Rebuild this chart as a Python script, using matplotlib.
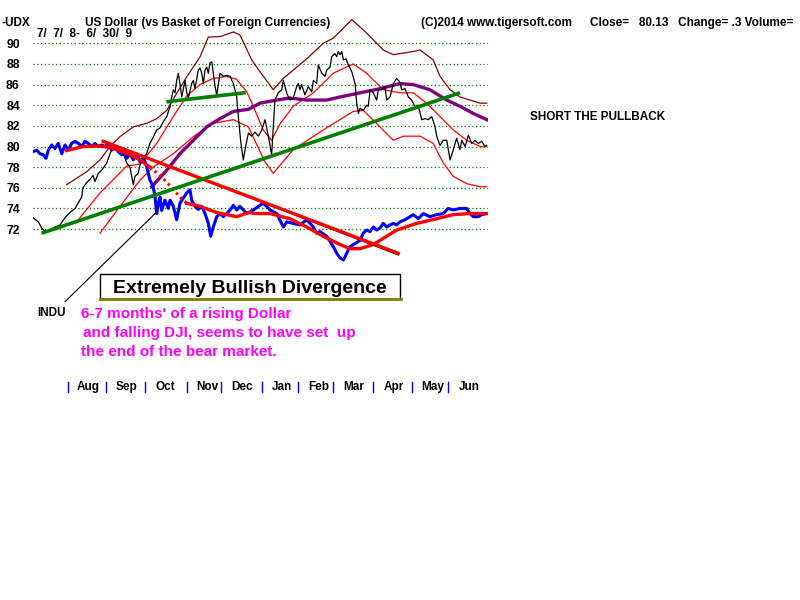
import matplotlib
matplotlib.use("Agg")
import matplotlib.pyplot as plt
import matplotlib.transforms as mtransforms
from matplotlib.patches import Rectangle
from matplotlib.lines import Line2D

plt.rcParams['font.family'] = ['Liberation Sans', 'DejaVu Sans']
plt.rcParams['font.weight'] = 'bold'

# x = trading day counted from 7/7/08 (day 0) to 6/30/09 (day 248)
months = ['Aug', 'Sep', 'Oct', 'Nov', 'Dec', 'Jan', 'Feb', 'Mar', 'Apr', 'May', 'Jun']
month_start = [19, 40, 61, 84, 103, 125, 145, 164, 186, 207, 227]
y_ticks = [72, 74, 76, 78, 80, 82, 84, 86, 88, 90]

# US Dollar index closes
usd_day = [0, 2.9, 4.8, 6.6, 9.3, 12.0, 14.8, 17.5, 20.2, 23.0, 24.6, 26.6, 27.3, 29.3, 31.1,
           32.8, 33.9, 35.7, 37.5, 40.3, 42.1, 43.9, 45.7, 47.5, 49.3, 51.2, 53.0, 54.8, 55.7,
           57.5, 58.5, 60.3, 62.1, 63.9, 65.7, 67.6, 69.4, 71.2, 73.1, 74.9, 75.8, 76.7, 77.6,
           78.5, 79.4, 80.3, 81.3, 82.1, 83.1, 84.0, 84.9, 86.7, 87.6, 88.5, 90.3, 91.3, 92.2,
           93.1, 94.0, 94.9, 95.8, 96.7, 97.7, 98.5, 99.5, 100.4, 102.2, 104.0, 105.8, 107.7,
           109.5, 111.3, 112.2, 113.5, 114.9, 116.2, 117.7, 119.5, 121.3, 123.1, 125.0, 126.8,
           128.6, 130.4, 131.3, 132.2, 134.0, 135.9, 136.8, 138.6, 140.4, 142.2, 144.1, 145.0,
           145.9, 146.8, 148.6, 150.4, 152.3, 153.2, 155.0, 155.9, 157.8, 159.6, 160.5, 162.3,
           163.2, 165.0, 166.0, 166.8, 167.8, 168.7, 169.6, 171.0, 172.3, 174.2, 176.0, 176.9,
           177.8, 178.7, 180.5, 182.3, 183.2, 184.2, 186.0, 187.8, 188.7, 190.5, 192.3, 193.3,
           195.1, 196.9, 198.7, 200.2, 201.5, 203.3, 205.1, 206.9, 208.7, 210.5, 212.4, 214.2,
           216.0, 217.9, 219.7, 220.6, 222.4, 224.2, 226.1, 227.9, 229.7, 231.5, 233.3, 234.3,
           236.1, 237.9, 239.7, 241.5, 243.3, 245.2, 247.0, 247.9]
usd_close = [73.1, 72.7, 72.1, 71.75, 71.9, 72.2, 72.4, 73.1, 73.6, 74.0, 74.5, 75.1, 76.0, 76.5,
             76.8, 77.2, 76.6, 77.4, 77.7, 78.4, 79.3, 80.0, 79.7, 80.0, 79.3, 78.4, 78.0, 76.3,
             77.1, 77.4, 78.2, 78.9, 79.3, 80.3, 80.9, 81.6, 81.8, 82.4, 82.9, 83.9, 84.8, 85.5,
             85.2, 86.4, 87.1, 86.1, 84.8, 85.5, 86.4, 85.2, 84.7, 86.1, 86.4, 85.6, 87.4, 87.6,
             87.1, 86.1, 87.4, 87.7, 87.1, 88.1, 88.2, 87.1, 85.8, 85.0, 87.1, 86.8, 86.9, 86.8,
             86.1, 84.8, 82.9, 80.5, 78.7, 80.0, 81.3, 81.0, 81.4, 81.0, 81.6, 82.6, 81.0, 79.2,
             81.9, 84.5, 85.2, 85.5, 86.4, 85.2, 84.5, 84.7, 85.8, 86.1, 85.5, 86.0, 85.0, 85.8,
             85.3, 86.4, 86.1, 87.9, 87.1, 86.8, 87.4, 87.7, 88.7, 89.0, 88.7, 89.2, 88.9, 89.2,
             88.4, 88.5, 87.9, 87.25, 86.1, 84.2, 83.2, 83.7, 83.5, 84.0, 83.9, 85.5, 85.2, 84.5,
             85.5, 85.5, 85.8, 84.5, 84.8, 86.1, 86.6, 86.3, 85.5, 85.6, 84.8, 84.5, 83.9, 84.0,
             82.6, 82.7, 82.6, 82.9, 81.9, 81.0, 80.1, 80.6, 80.6, 78.7, 79.7, 80.8, 79.7, 80.6,
             80.0, 81.1, 80.3, 80.6, 80.3, 80.5, 80.0, 80.13]

# outer upper band (dark red)
outer_day = [18.4, 29.3, 36.6, 42.1, 47.5, 54.8, 62.1, 67.6, 73.1, 78.5, 84.0, 91.3, 95.8, 102.2,
             109.5, 113.1, 119.5, 122.2, 131.3, 136.8, 149.6, 158.6, 164.1, 174.2, 182.3, 191.4,
             196.9, 207.8, 211.5, 218.7, 222.4, 227.9, 233.3, 238.8, 244.3, 248.0]
outer_up = [76.3, 77.55, 78.7, 80.0, 80.95, 81.9, 82.25, 82.7, 83.5, 85.15, 86.75, 88.7, 90.6,
            90.65, 91.1, 90.8, 88.4, 87.7, 85.5, 86.6, 88.5, 90.0, 90.5, 92.3, 91.0, 89.35, 88.9,
            89.2, 89.35, 88.4, 86.8, 85.5, 84.8, 84.5, 84.2, 84.2]

# inner bands (red)
upper_day = [23.9, 36.6, 51.2, 58.5, 67.6, 76.7, 84.0, 91.3, 98.5, 105.8, 111.3, 116.8, 120.4,
             125.8, 130.4, 135.0, 142.2, 153.2, 164.1, 175.0, 182.3, 191.4, 200.5, 207.8, 215.1,
             222.4, 229.7, 237.0, 244.3, 247.9]
upper_band = [72.7, 75.5, 78.1, 78.3, 80.3, 82.9, 84.9, 86.0, 86.6, 86.8, 86.5, 85.3, 83.9, 81.6,
              80.6, 82.2, 83.9, 85.2, 87.1, 88.0, 87.1, 85.5, 85.2, 85.2, 84.2, 82.9, 81.6, 80.6,
              80.0, 80.0]
lower_day = [36.6, 47.5, 58.5, 65.7, 76.7, 87.6, 98.5, 109.5, 117.7, 122.2, 126.8, 131.3, 142.2,
             158.6, 175.0, 180.5, 189.6, 196.9, 202.4, 211.5, 218.7, 224.2, 229.7, 237.0, 244.3,
             247.9]
lower_band = [71.6, 74.2, 76.75, 78.0, 79.3, 80.95, 82.25, 82.6, 81.9, 80.2, 78.5, 77.4, 79.7,
              81.6, 83.4, 83.5, 81.9, 80.6, 81.0, 81.0, 80.3, 78.4, 77.1, 76.4, 76.1, 76.1]

# long moving average (purple)
ma_day = [64.9, 73.1, 80.3, 87.6, 94.9, 102.2, 109.5, 117.7, 124.0, 133.2, 140.4, 149.6, 160.5,
          167.8, 178.7, 189.6, 200.5, 207.8, 216.9, 226.1, 233.3, 240.6, 248.0]
ma_val = [76.1, 77.7, 79.3, 80.6, 81.9, 82.7, 83.4, 83.6, 84.2, 84.5, 84.7, 84.5, 84.5, 84.8, 85.2,
          85.6, 86.1, 86.0, 85.5, 84.5, 83.9, 83.2, 82.6]

# INDU (blue) drawn on the dollar scale, and its moving average (red)
indu_day = [0, 2.0, 3.8, 5.6, 7.1, 8.4, 10.2, 12.0, 13.8, 15.7, 17.5, 19.3, 21.1, 23.0, 24.8,
            26.6, 28.4, 30.2, 32.1, 33.9, 35.7, 37.5, 39.3, 41.1, 43.0, 44.8, 46.6, 48.5, 50.3,
            51.2, 53.0, 54.8, 56.7, 58.5, 60.3, 62.1, 63.9, 65.7, 66.7, 67.6, 68.5, 69.4, 70.3,
            72.1, 73.9, 74.9, 76.7, 78.5, 80.3, 82.1, 84.0, 85.8, 86.7, 88.5, 90.3, 92.2, 94.0,
            95.8, 97.1, 98.5, 100.4, 102.2, 104.0, 105.8, 107.7, 109.5, 111.3, 113.1, 116.8,
            120.4, 124.0, 125.8, 127.7, 129.5, 133.2, 136.8, 138.6, 142.2, 145.9, 149.6, 153.2,
            155.0, 156.8, 160.5, 164.1, 166.0, 167.8, 169.6, 171.4, 173.2, 176.0, 178.7, 180.5,
            182.3, 184.2, 186.0, 187.8, 189.6, 191.4, 193.3, 195.1, 196.9, 198.7, 200.5, 203.3,
            206.0, 207.8, 210.5, 213.3, 216.9, 220.6, 224.2, 226.9, 229.7, 233.3, 237.0, 238.8,
            240.6, 243.3, 245.2, 247.9]
indu_val = [79.5, 79.65, 79.3, 79.2, 78.85, 79.65, 80.15, 79.8, 80.3, 79.3, 80.15, 79.65, 80.3,
            80.5, 80.3, 80.0, 80.5, 80.3, 80.0, 80.3, 80.0, 80.15, 80.0, 80.3, 79.65, 80.0, 79.5,
            79.2, 79.5, 78.85, 79.3, 78.7, 79.3, 78.5, 79.0, 78.05, 76.75, 76.1, 75.1, 73.5, 74.5,
            75.1, 73.8, 74.8, 74.0, 74.8, 74.2, 72.9, 74.5, 75.0, 75.5, 75.8, 74.8, 74.2, 73.9,
            74.2, 73.5, 72.55, 71.3, 72.2, 73.2, 73.5, 73.2, 73.5, 73.85, 74.3, 73.85, 74.2, 73.5,
            73.85, 74.3, 74.5, 74.2, 73.85, 73.5, 72.2, 72.7, 72.55, 72.4, 72.9, 72.2, 71.6,
            71.75, 71.3, 70.3, 69.65, 69.2, 69.0, 69.65, 70.3, 70.6, 70.9, 71.6, 71.9, 71.75,
            72.2, 71.9, 72.1, 72.55, 72.2, 72.4, 72.55, 72.4, 72.7, 72.9, 73.2, 73.4, 73.0, 73.5,
            73.2, 73.4, 73.5, 74.0, 73.85, 74.0, 74.0, 73.5, 73.2, 73.2, 73.4, 73.5]
indu_ma_day = [18.4, 27.5, 36.6, 42.1, 47.5, 53.0, 58.5, 63.9, 69.4, 74.9, 80.3, 84.0, 91.3,
               100.4, 111.3, 117.7, 122.2, 129.5, 140.4, 149.6, 158.6, 167.8, 173.2, 178.7, 186.0,
               191.4, 198.7, 209.7, 220.6, 229.7, 238.8, 247.9]
indu_ma = [79.6, 80.0, 80.05, 79.9, 79.6, 79.2, 78.7, 78.0, 77.2, 76.2, 75.1, 74.5, 74.2, 73.6,
           73.2, 73.6, 73.5, 73.5, 73.0, 72.2, 71.3, 70.5, 70.1, 70.1, 70.5, 71.1, 71.9, 72.55,
           73.0, 73.4, 73.5, 73.5]

# hand drawn trend lines (start, end)
green_short = ([73.9, 115.3], [84.35, 85.2])
green_long = ([5.6, 232.4], [71.65, 85.15])
red_trend = ([38.4, 199.6], [80.5, 69.65])
black_trend = ([40.0, 199.6], [80.45, 69.5])
pointer = ([17.5, 66.7], [64.96, 73.5])

W, H = 800, 600
fig = plt.figure(figsize=(W / 100, H / 100), dpi=100, facecolor='white')

# pixel scale of the original chart
px_day = 1.83
px_unit = 10.32
ax = fig.add_axes([33 / W, 1 - 310 / H, 455 / W, 300 / H])
ax.set_xlim(0, 455 / px_day)
ax.set_ylim(90 - (310 - 43.3) / px_unit, 90 + (43.3 - 10) / px_unit)
ax.set_facecolor('white')
for s in ax.spines.values():
    s.set_visible(False)
ax.set_xticks([])
ax.set_yticks(y_ticks)
ax.set_yticklabels([str(v) for v in y_ticks], fontsize=8.8, fontweight='bold')
ax.tick_params(axis='y', length=0, pad=9.5)

ax.hlines(y_ticks, 0, 455 / px_day, colors='#008000', linestyles=(0, (1, 2)), linewidth=0.9, zorder=0)

ax.plot(outer_day, outer_up, color='#8b0000', lw=0.9, zorder=1)
ax.plot(upper_day, upper_band, color='red', lw=0.9, zorder=1)
ax.plot(lower_day, lower_band, color='red', lw=0.9, zorder=1)
ax.plot(ma_day, ma_val, color='#800080', lw=2.4, zorder=2)
ax.plot(usd_day, usd_close, color='black', lw=0.9, zorder=3)

ax.plot(indu_day, indu_val, color='blue', lw=2.2, zorder=4)
# MA drawn dotted where it falls steeply
ax.plot(indu_ma_day[:8], indu_ma[:8], color='red', lw=2.4, zorder=5)
ax.plot(indu_ma_day[7:12], indu_ma[7:12], color='red', lw=2.2, ls=(0, (0.8, 1.2)), zorder=5)
ax.plot(indu_ma_day[11:], indu_ma[11:], color='red', lw=2.4, zorder=5)

ax.plot(*black_trend, color='black', lw=1, zorder=5)
ax.plot(*red_trend, color='red', lw=2.4, zorder=6)
ax.plot(*green_short, color='#008000', lw=2.6, zorder=6)
ax.plot(*green_long, color='#008000', lw=2.6, zorder=6)
ax.plot(*pointer, color='black', lw=0.8, zorder=6, clip_on=False)

# month axis below the notes
tr = mtransforms.blended_transform_factory(ax.transData, fig.transFigure)
for m, d in zip(months, month_start):
    ax.add_line(Line2D([d, d], [1 - 381.5 / H, 1 - 392 / H], color='blue', lw=1,
                       transform=tr, clip_on=False))
    ax.text(d + 11.3, 1 - 390 / H, m, transform=tr, ha='center', va='baseline',
            fontsize=8.5, fontweight='bold')


def ftext(x, y, s, **kw):
    fig.text(x / W, 1 - y / H, s, va='baseline', fontweight='bold', **kw)


ftext(2, 26, '-UDX', fontsize=8.5)
ftext(85, 26, 'US Dollar (vs Basket of Foreign Currencies)', fontsize=8.5)
ftext(37, 37, '7/  7/  8-  6/  30/  9', fontsize=8.5)
ftext(421, 26, '(C)2014 www.tigersoft.com', fontsize=8.5)
ftext(590, 26, 'Close=   80.13   Change= .3 Volume=', fontsize=8.5)
ftext(530, 120, 'SHORT THE PULLBACK', fontsize=8.5)
ftext(37, 315.7, 'INDU', fontsize=8.5)

fig.patches.append(Rectangle((100 / W, 1 - 299 / H), 300 / W, 25 / H, fill=False,
                             edgecolor='black', lw=1, transform=fig.transFigure, figure=fig))
fig.lines.append(Line2D([100 / W, 401 / W], [1 - 298.5 / H, 1 - 298.5 / H], color='#808000',
                        lw=2, transform=fig.transFigure, figure=fig))
ftext(113, 293, 'Extremely Bullish Divergence', fontsize=14)

ftext(81, 318, "6-7 months' of a rising Dollar", fontsize=11, color='#ff00ff')
ftext(83, 337.5, 'and falling DJI, seems to have set  up', fontsize=11, color='#ff00ff')
ftext(81, 356, 'the end of the bear market.', fontsize=11, color='#ff00ff')

fig.savefig('out.png', dpi=100, facecolor='white')
